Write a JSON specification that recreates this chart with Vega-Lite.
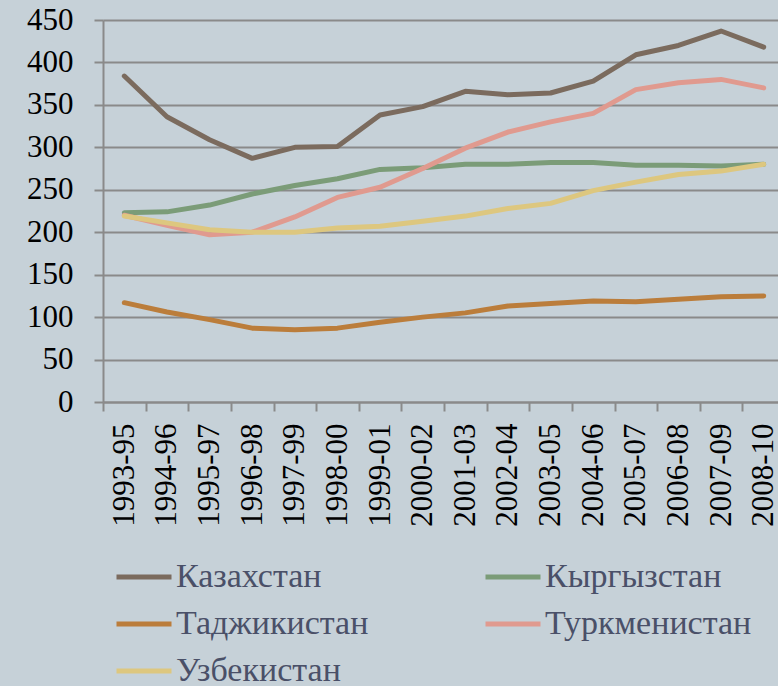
{
  "$schema": "https://vega.github.io/schema/vega-lite/v6.json",
  "autosize": "none",
  "width": 675,
  "height": 382,
  "padding": {"left": 103, "top": 20, "right": 0, "bottom": 284},
  "background": "#c6d1d8",
  "config": {
    "view": {"stroke": null},
    "font": "Liberation Serif",
    "axis": {
      "domainColor": "#8a8a8a",
      "domainWidth": 2,
      "tickColor": "#8a8a8a",
      "tickWidth": 2,
      "gridColor": "#8a8a8a",
      "gridWidth": 2,
      "gridOpacity": 1,
      "labelColor": "#000000",
      "labelFont": "Liberation Serif",
      "labelFontSize": 31
    }
  },
  "data": {
    "values": [
      {"period": "1993-95", "country": "Казахстан", "value": 384},
      {"period": "1994-96", "country": "Казахстан", "value": 336},
      {"period": "1995-97", "country": "Казахстан", "value": 309},
      {"period": "1996-98", "country": "Казахстан", "value": 287},
      {"period": "1997-99", "country": "Казахстан", "value": 300},
      {"period": "1998-00", "country": "Казахстан", "value": 301},
      {"period": "1999-01", "country": "Казахстан", "value": 338},
      {"period": "2000-02", "country": "Казахстан", "value": 348},
      {"period": "2001-03", "country": "Казахстан", "value": 366},
      {"period": "2002-04", "country": "Казахстан", "value": 362},
      {"period": "2003-05", "country": "Казахстан", "value": 364},
      {"period": "2004-06", "country": "Казахстан", "value": 378},
      {"period": "2005-07", "country": "Казахстан", "value": 409},
      {"period": "2006-08", "country": "Казахстан", "value": 420},
      {"period": "2007-09", "country": "Казахстан", "value": 437},
      {"period": "2008-10", "country": "Казахстан", "value": 418},
      {"period": "1993-95", "country": "Кыргызстан", "value": 223},
      {"period": "1994-96", "country": "Кыргызстан", "value": 224},
      {"period": "1995-97", "country": "Кыргызстан", "value": 232},
      {"period": "1996-98", "country": "Кыргызстан", "value": 245},
      {"period": "1997-99", "country": "Кыргызстан", "value": 255},
      {"period": "1998-00", "country": "Кыргызстан", "value": 263},
      {"period": "1999-01", "country": "Кыргызстан", "value": 274},
      {"period": "2000-02", "country": "Кыргызстан", "value": 276},
      {"period": "2001-03", "country": "Кыргызстан", "value": 280},
      {"period": "2002-04", "country": "Кыргызстан", "value": 280},
      {"period": "2003-05", "country": "Кыргызстан", "value": 282},
      {"period": "2004-06", "country": "Кыргызстан", "value": 282},
      {"period": "2005-07", "country": "Кыргызстан", "value": 279},
      {"period": "2006-08", "country": "Кыргызстан", "value": 279},
      {"period": "2007-09", "country": "Кыргызстан", "value": 278},
      {"period": "2008-10", "country": "Кыргызстан", "value": 280},
      {"period": "1993-95", "country": "Таджикистан", "value": 117},
      {"period": "1994-96", "country": "Таджикистан", "value": 106},
      {"period": "1995-97", "country": "Таджикистан", "value": 97},
      {"period": "1996-98", "country": "Таджикистан", "value": 87},
      {"period": "1997-99", "country": "Таджикистан", "value": 85},
      {"period": "1998-00", "country": "Таджикистан", "value": 87},
      {"period": "1999-01", "country": "Таджикистан", "value": 94},
      {"period": "2000-02", "country": "Таджикистан", "value": 100},
      {"period": "2001-03", "country": "Таджикистан", "value": 105},
      {"period": "2002-04", "country": "Таджикистан", "value": 113},
      {"period": "2003-05", "country": "Таджикистан", "value": 116},
      {"period": "2004-06", "country": "Таджикистан", "value": 119},
      {"period": "2005-07", "country": "Таджикистан", "value": 118},
      {"period": "2006-08", "country": "Таджикистан", "value": 121},
      {"period": "2007-09", "country": "Таджикистан", "value": 124},
      {"period": "2008-10", "country": "Таджикистан", "value": 125},
      {"period": "1993-95", "country": "Туркменистан", "value": 220},
      {"period": "1994-96", "country": "Туркменистан", "value": 208},
      {"period": "1995-97", "country": "Туркменистан", "value": 197},
      {"period": "1996-98", "country": "Туркменистан", "value": 200},
      {"period": "1997-99", "country": "Туркменистан", "value": 218},
      {"period": "1998-00", "country": "Туркменистан", "value": 241},
      {"period": "1999-01", "country": "Туркменистан", "value": 253},
      {"period": "2000-02", "country": "Туркменистан", "value": 275},
      {"period": "2001-03", "country": "Туркменистан", "value": 299},
      {"period": "2002-04", "country": "Туркменистан", "value": 318},
      {"period": "2003-05", "country": "Туркменистан", "value": 330},
      {"period": "2004-06", "country": "Туркменистан", "value": 340},
      {"period": "2005-07", "country": "Туркменистан", "value": 368},
      {"period": "2006-08", "country": "Туркменистан", "value": 376},
      {"period": "2007-09", "country": "Туркменистан", "value": 380},
      {"period": "2008-10", "country": "Туркменистан", "value": 370},
      {"period": "1993-95", "country": "Узбекистан", "value": 219},
      {"period": "1994-96", "country": "Узбекистан", "value": 211},
      {"period": "1995-97", "country": "Узбекистан", "value": 203},
      {"period": "1996-98", "country": "Узбекистан", "value": 200},
      {"period": "1997-99", "country": "Узбекистан", "value": 200},
      {"period": "1998-00", "country": "Узбекистан", "value": 205},
      {"period": "1999-01", "country": "Узбекистан", "value": 207},
      {"period": "2000-02", "country": "Узбекистан", "value": 213},
      {"period": "2001-03", "country": "Узбекистан", "value": 219},
      {"period": "2002-04", "country": "Узбекистан", "value": 228},
      {"period": "2003-05", "country": "Узбекистан", "value": 234},
      {"period": "2004-06", "country": "Узбекистан", "value": 249},
      {"period": "2005-07", "country": "Узбекистан", "value": 259},
      {"period": "2006-08", "country": "Узбекистан", "value": 268},
      {"period": "2007-09", "country": "Узбекистан", "value": 272},
      {"period": "2008-10", "country": "Узбекистан", "value": 280}
    ]
  },
  "mark": {"type": "line", "strokeWidth": 5, "strokeCap": "round", "strokeJoin": "round"},
  "encoding": {
    "x": {
      "field": "period",
      "type": "nominal",
      "sort": null,
      "scale": {"range": [0, 682], "paddingInner": 0, "paddingOuter": 0},
      "axis": {
        "title": null,
        "labelAngle": -90,
        "tickBand": "extent",
        "tickSize": 9,
        "labelPadding": 12,
        "grid": false
      }
    },
    "y": {
      "field": "value",
      "type": "quantitative",
      "scale": {"domain": [0, 450], "nice": false},
      "axis": {
        "title": null,
        "values": [0, 50, 100, 150, 200, 250, 300, 350, 400, 450],
        "tickSize": 9,
        "labelPadding": 21,
        "grid": true
      }
    },
    "color": {
      "field": "country",
      "type": "nominal",
      "scale": {
        "domain": ["Казахстан", "Таджикистан", "Узбекистан", "Кыргызстан", "Туркменистан"],
        "range": ["#7b6b5e", "#bb7d3b", "#ddc77f", "#7b9c78", "#e09a8f"]
      },
      "legend": {
        "title": null,
        "orient": "none",
        "legendX": 11,
        "legendY": 527,
        "columns": 2,
        "columnPadding": 106,
        "rowPadding": 0,
        "symbolType": "stroke",
        "symbolSize": 3025,
        "symbolStrokeWidth": 5,
        "symbolOffset": 0,
        "labelOffset": 2,
        "labelFont": "Liberation Serif",
        "labelFontSize": 34,
        "labelColor": "#4a5068",
        "labelLimit": 400
      }
    }
  }
}
